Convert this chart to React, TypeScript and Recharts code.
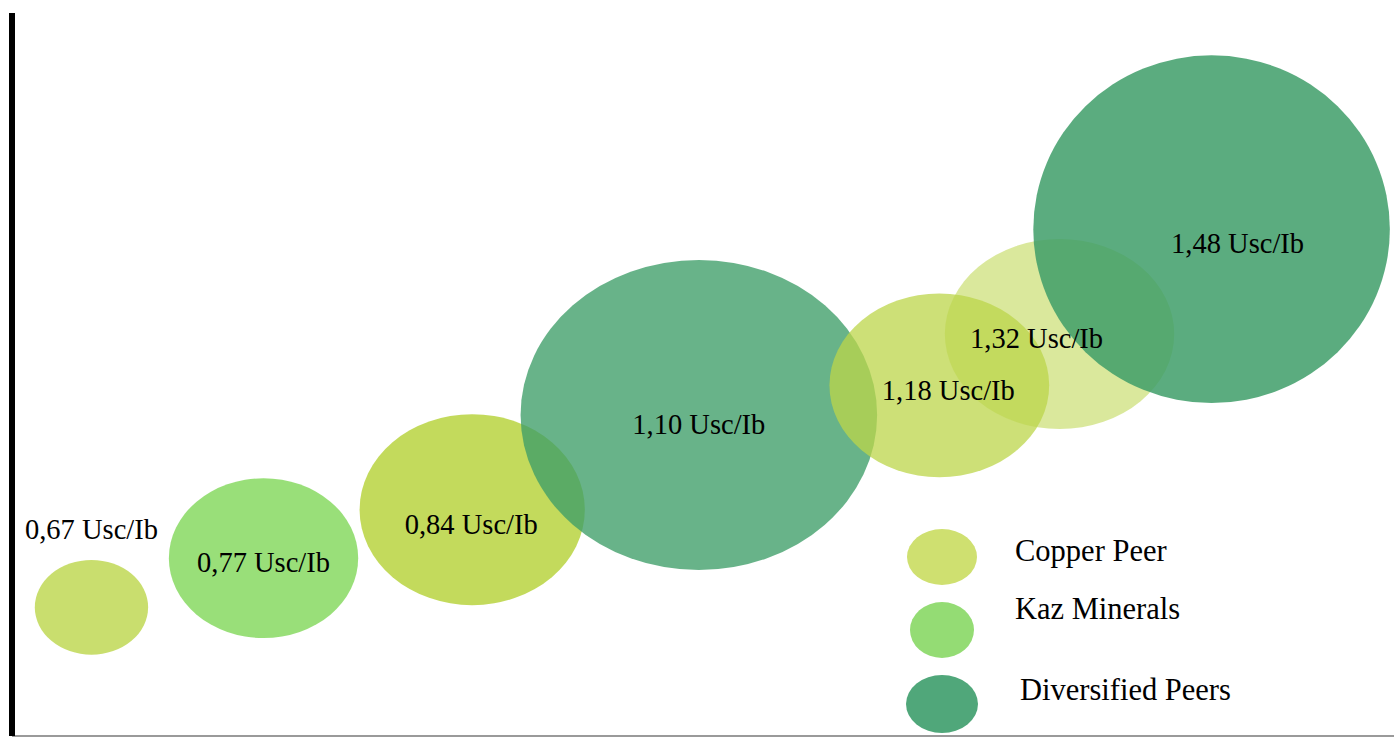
import { Legend, ReferenceArea, Scatter, ScatterChart, XAxis, YAxis } from 'recharts'

// cash cost per bubble (Usc/lb) and which peer group it belongs to
const categories = ['Copper Peer', 'Kaz Minerals', 'Diversified Peers']
const costs = [0.67, 0.77, 0.84, 1.1, 1.18, 1.32, 1.48]
const groups = [0, 1, 0, 2, 0, 0, 2]
// bubble centre and size, in the chart's 0..100 units
const xs = [5.75, 18.2, 33.3, 49.7, 67.1, 75.8, 86.8]
const ys = [17.8, 24.6, 31.3, 44.4, 48.5, 55.6, 70.1]
const widths = [8.2, 13.7, 16.3, 25.8, 15.9, 16.6, 25.8]
const heights = [13.1, 22.1, 26.4, 42.9, 25.4, 26.3, 48.1]

const COLORS = ['#bcd64a', '#8edb6a', '#3e9d68']
const LEGEND_COLORS = ['#cfe070', '#94dc74', '#50a77a']
// per-bubble transparency and label nudges (px)
const OPACITY = [0.8, 0.9, 0.9, 0.78, 0.75, 0.55, 0.85]
const LABEL_DX = [0, 0, -1, 0, 9, -23, 26]
const LABEL_DY = [-78, 4, 14, 9, 5, 4, 14]
const FONT = '"Liberation Serif", "Times New Roman", serif'

const data = costs.map((c, i) => ({
  label: `${c.toFixed(2).replace('.', ',')} Usc/Ib`,
  group: groups[i],
  x: xs[i],
  y: ys[i],
  i,
}))

function Ellipse(props: any) {
  const { x, y, width, height, fill, fillOpacity } = props
  return (
    <ellipse cx={x + width / 2} cy={y + height / 2} rx={Math.abs(width) / 2}
      ry={Math.abs(height) / 2} fill={fill} fillOpacity={fillOpacity} />
  )
}

function BubbleLabel(props: any) {
  const { cx, cy, payload } = props
  const i = payload.i
  return (
    <text x={cx + LABEL_DX[i]} y={cy + LABEL_DY[i] + 10} textAnchor="middle"
      fontFamily={FONT} fontSize={28.5} fill="#000">
      {payload.label}
    </text>
  )
}

function LegendBox() {
  const rows = [
    { cy: 32, rx: 35, ry: 28, ty: 36 },
    { cy: 105, rx: 32, ry: 28, ty: 94 },
    { cy: 179, rx: 36, ry: 29, ty: 175 },
  ]
  return (
    <svg width={360} height={215}>
      {categories.map((name, i) => (
        <g key={name}>
          <ellipse cx={42} cy={rows[i].cy} rx={rows[i].rx} ry={rows[i].ry}
            fill={LEGEND_COLORS[i]} />
          <text x={i === 2 ? 120 : 115} y={rows[i].ty} fontFamily={FONT} fontSize={30.5}
            fill="#000">{name}</text>
        </g>
      ))}
    </svg>
  )
}

export default function App() {
  return (
    <div style={{ position: 'absolute', left: 0, top: 0, width: 1394, height: 738, background: '#fff' }}>
      <ScatterChart width={1394} height={738} margin={{ top: 13, right: 0, bottom: 0, left: 0 }}>
        <XAxis type="number" dataKey="x" domain={[0, 100]} height={2} tick={false}
          tickLine={false} axisLine={{ stroke: '#9a9a9a', strokeWidth: 2 }} />
        <YAxis type="number" dataKey="y" domain={[0, 100]} width={12} tick={false}
          tickLine={false} axisLine={{ stroke: '#000', strokeWidth: 6 }} />
        {data.map((d, i) => (
          <ReferenceArea key={i} x1={xs[i] - widths[i] / 2} x2={xs[i] + widths[i] / 2}
            y1={ys[i] - heights[i] / 2} y2={ys[i] + heights[i] / 2} ifOverflow="visible"
            fill={COLORS[d.group]} fillOpacity={OPACITY[i]} stroke="none"
            shape={<Ellipse />} />
        ))}
        <Scatter data={data} isAnimationActive={false} shape={<BubbleLabel />}
          legendType="none" />
        <Legend layout="vertical" align="center" verticalAlign="middle"
          wrapperStyle={{ left: 900, top: 525, width: 360 }} content={() => <LegendBox />} />
      </ScatterChart>
    </div>
  )
}
